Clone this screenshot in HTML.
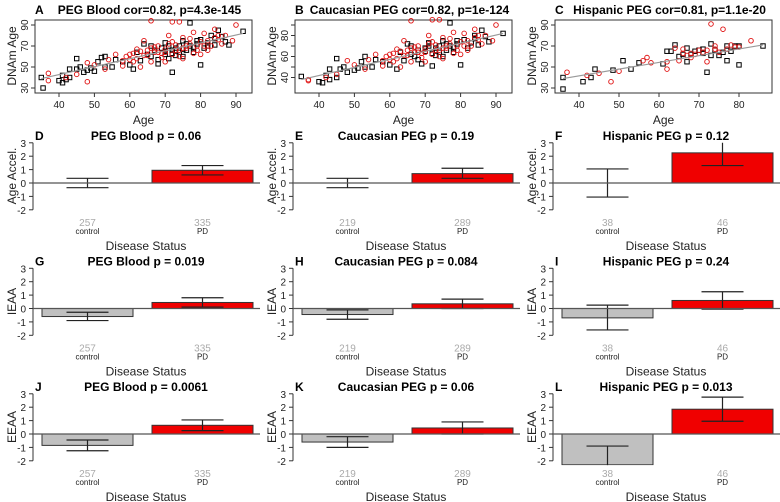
<!DOCTYPE html>
<html><head><meta charset="utf-8"><style>
body{margin:0;background:#fff;width:780px;height:502px;overflow:hidden}
svg{display:block;font-family:"Liberation Sans",Arial,sans-serif}
</style></head><body>
<svg id="fig" width="780" height="502" viewBox="0 0 780 502" xmlns="http://www.w3.org/2000/svg"></svg>
<script>
// ---- scatter data (age, DNAm age) ----
const aCtrlAge=[35,35.5,40,41,41,42,43,43,45,45,46,47,48,49,50,51,52,53,53,55,56,58,60,61,62,63,64,65,66,67,68,69,70,71,72,72,73,74,75,75,76,77,77,78,79,80,80,81,82,83,84,85,86,87,88,92,70,73,66,68,72,74,76,78,70,71,75,79,82,84];
const aCtrlDnam=[40,30,37,35,42,38,48,40,58,48,50,45,47,49,46,55,59,60,50,50,57,55,52,48,64,56,72,62,60,66,53,68,73,58,45,63,68,70,60,75,66,92,70,64,72,52,76,68,73,80,71,85,79,74,71,84,65,61,70,57,66,64,72,69,62,70,67,75,70,77];
const aPdAge=[37,37,42,45,48,48,50,53,54,56,58,59,60,61,62,63,64,65,66,66,67,68,69,70,71,72,72,73,74,74,75,76,77,78,79,80,81,82,83,84,85,86,87,89,90,64,70,75,62,80,78,68,60,63,66,69,71,73,76,79,82,84,65,67,72,74,77,81,85,58,61,70,75];
const aPdDnam=[44,37,40,43,36,54,52,48,57,62,51,60,57,63,67,50,61,66,94,55,64,70,59,67,80,93,62,71,93,66,58,68,77,63,70,74,82,66,70,86,76,72,80,75,90,75,55,78,58,62,83,64,62,65,68,63,72,66,70,66,75,78,61,69,74,60,72,70,80,56,55,64,68];
const bCtrlAge=[35,40,41,42,43,43,45,45,46,47,48,50,51,52,53,53,55,56,58,60,62,63,64,65,66,67,68,69,70,71,72,72,73,74,75,75,76,77,77,78,79,80,81,82,83,84,85,86,87,88,92,70,73,66,68,74,76,78,71,79,84];
const bCtrlDnam=[41,36,35,42,38,48,40,58,48,50,45,47,49,55,60,50,50,57,55,52,48,64,56,72,62,60,66,53,68,73,51,63,68,70,60,75,66,92,70,64,72,52,76,68,73,80,71,85,79,74,82,65,61,70,57,64,72,69,70,75,77];
const bPdAge=[37,37,42,45,48,50,53,54,56,58,59,60,61,62,63,64,65,66,66,67,68,69,70,71,72,72,73,74,74,75,76,77,78,79,80,81,82,83,84,85,86,87,89,90,64,70,75,62,80,78,68,60,63,66,69,71,73,76,79,82,84,65,67,72,74,77,81,85,58,61,70,75];
const bPdDnam=[38,37,40,43,56,52,48,57,62,51,60,57,63,67,50,61,66,94,55,64,70,59,67,80,95,62,71,95,66,58,68,77,63,70,74,82,66,70,86,76,72,80,75,90,75,55,78,58,62,83,64,62,65,68,63,72,66,70,66,75,78,61,69,74,60,72,70,80,56,55,64,68];
const cCtrlAge=[36,36,41,43,44,48.5,51,53,55,61,62,63,64,65,66,67,67,68,69,70,71,71,72,73,73,74,75,76,77,77,78,79,80,80,86];
const cCtrlDnam=[40,29,36,40,48,47,56,48,54,53,65,65,71,60,62,55,68,62,65,66,63,67,45,61,72,66,61,64,56,70,65,70,52,70,70];
const cPdAge=[37,42,45,48,50,56,57,58,62,62,64,65,66,66,67,68,68,69,70,71,72,72,73,74,74,75,76,77,78,79,80,83];
const cPdDnam=[45,42,44,36,46,56,59,54,55,48,68,56,63,67,61,59,63,62,66,64,66,55,91,70,67,64,86,67,71,69,69,75];
// regression lines [age0, dnam0, age1, dnam1]
const fitA=[35,39,92,82];
const fitB=[35,38,92,82];
const fitC=[36,39,86,71];

// ---- bar data
const barTitles=["PEG Blood p = 0.06","Caucasian PEG p = 0.19","Hispanic PEG p = 0.12","PEG Blood p = 0.019","Caucasian PEG p = 0.084","Hispanic PEG p = 0.24","PEG Blood p = 0.0061","Caucasian PEG p = 0.06","Hispanic PEG p = 0.013"];
const barLetters=["D","E","F","G","H","I","J","K","L"];
const ctrlMean=[0,0,0,-0.6,-0.45,-0.7,-0.85,-0.6,-2.3];
const ctrlLo=[-0.35,-0.35,-1.05,-0.9,-0.8,-1.6,-1.25,-1.0,-3.7];
const ctrlHi=[0.35,0.35,1.05,-0.28,-0.1,0.25,-0.45,-0.2,-0.9];
const pdMean=[0.95,0.7,2.25,0.45,0.35,0.6,0.65,0.45,1.85];
const pdLo=[0.6,0.35,1.3,0.1,0.0,-0.05,0.25,0.0,0.95];
const pdHi=[1.3,1.1,3.2,0.8,0.7,1.25,1.05,0.9,2.75];
const nCtrl=["257","219","38","257","219","38","257","219","38"];
const nPd=["335","289","46","335","289","46","335","289","46"];
const yLabels=["Age Accel.","IEAA","EEAA"];
const barTicks=[3,2,1,0,-1,-2];

const svg=document.getElementById('fig');
const NS="http://www.w3.org/2000/svg";
function el(tag,attrs,parent,text){const e=document.createElementNS(NS,tag);for(const k in attrs)e.setAttribute(k,attrs[k]);if(text!==undefined)e.textContent=text;(parent||svg).appendChild(e);return e;}
const defs=el('defs',{});

function scatter(ox,letter,title,ctrlX,ctrlY,pdX,pdY,fit,pxPerYr,xticks,yTickLab,name){
  const g=el('g',{});
  
  
  const L=ox+35,R=ox+252,T=20,B=93;
  const x0=(ox===520)?579:ox+59;
  const sx=a=>x0+(a-40)*pxPerYr;
  const sy=v=>25+(90-v)*1.05;
  const t=el('text',{x:ox+35,y:14,'font-size':12,'font-weight':'bold'},g,letter);
  
  
  const tt=el('text',{x:(L+R)/2+6,y:14,'font-size':12,'font-weight':'bold','text-anchor':'middle'},g,title);
  
  
  const bx=el('rect',{x:L,y:T,width:R-L,height:B-T,fill:'none',stroke:'#333','stroke-width':1},g);
  
  
  for(let i=0;i<ctrlX.length;i++){
    const s=el('rect',{x:sx(ctrlX[i])-2.2,y:sy(ctrlY[i])-2.2,width:4.4,height:4.4,fill:'none',stroke:'#000','stroke-width':1},g);
    
    
  }
  for(let i=0;i<pdX.length;i++){
    const c=el('circle',{cx:sx(pdX[i]),cy:sy(pdY[i]),r:2.3,fill:'none',stroke:'#e01010','stroke-width':0.9},g);
    
    
  }
  const fl=el('line',{x1:sx(fit[0]),y1:sy(fit[1]),x2:sx(fit[2]),y2:sy(fit[3]),stroke:'#999','stroke-width':1.2},g);
  
  
  xticks.forEach(v=>{
    el('line',{x1:sx(v),y1:B,x2:sx(v),y2:B+4,stroke:'#333'},g);
    const lt=el('text',{x:sx(v),y:108,'font-size':10,'text-anchor':'middle',fill:'#222'},g,String(v));
    
    
  });
  yTickLab.forEach(v=>{
    el('line',{x1:L,y1:sy(v),x2:L-4,y2:sy(v),stroke:'#333'},g);
  });
  const labs=(name==='scatter-b')?[40,60,80]:[30,50,70,90];
  const minor=(name==='scatter-b')?[50,70,90]:[];
  minor.forEach(v=>el('line',{x1:L,y1:sy(v),x2:L-4,y2:sy(v),stroke:'#333'},g));
  labs.forEach(v=>{
    const lt=el('text',{x:0,y:0,'font-size':10,'text-anchor':'middle',fill:'#222',transform:`translate(${L-7},${sy(v)}) rotate(-90)`},g,String(v));
    
    
  });
  const xl=el('text',{x:(L+R)/2,y:124,'font-size':12,'text-anchor':'middle',fill:'#222'},g,'Age');
  
  
  const yl=el('text',{x:0,y:0,'font-size':12,'text-anchor':'middle',fill:'#222',transform:`translate(${ox+16},${56}) rotate(-90)`},g,'DNAm Age');
  
  
}
scatter(0,'A','PEG Blood cor=0.82, p=4.3e-145',aCtrlAge,aCtrlDnam,aPdAge,aPdDnam,fitA,3.54,[40,50,60,70,80,90],[30,50,70,90],'scatter-a');
scatter(260,'B','Caucasian PEG cor=0.82, p=1e-124',bCtrlAge,bCtrlDnam,bPdAge,bPdDnam,fitB,3.54,[40,50,60,70,80,90],[40,60,80],'scatter-b');
scatter(520,'C','Hispanic PEG cor=0.81, p=1.1e-20',cCtrlAge,cCtrlDnam,cPdAge,cPdDnam,fitC,4.0,[40,50,60,70,80],[30,50,70,90],'scatter-c');

for(let i=0;i<9;i++){
  const col=i%3,row=Math.floor(i/3);
  const ox=col*260, oy=row*125.5;
  const g=el('g',{});
  
  
  const y0=183+oy, k=13.4;
  const sy=v=>y0-v*k;
  const axX=ox+33;
  const cp=el('clipPath',{id:'clip'+i},defs);
  el('rect',{x:ox,y:sy(3),width:262,height:sy(-2.32)-sy(3)},cp);
  const lt=el('text',{x:ox+35,y:oy+140,'font-size':12,'font-weight':'bold'},g,barLetters[i]);
  
  
  const tt=el('text',{x:ox+146,y:oy+140,'font-size':12,'font-weight':'bold','text-anchor':'middle'},g,barTitles[i]);
  
  
  el('line',{x1:axX,y1:sy(3),x2:axX,y2:sy(-2),stroke:'#333'},g);
  barTicks.forEach(v=>{
    el('line',{x1:axX,y1:sy(v),x2:axX-4,y2:sy(v),stroke:'#333'},g);
    const t=el('text',{x:axX-7,y:sy(v)+4,'font-size':10,'text-anchor':'end',fill:'#222'},g,String(v));
    
    
  });
  const bars=[[ox+42,ox+133,ctrlMean[i],ctrlLo[i],ctrlHi[i],'#c0c0c0','control',nCtrl[i]],[ox+152,ox+253,pdMean[i],pdLo[i],pdHi[i],'#f00000','PD',nPd[i]]];
  const clipG=el('g',{'clip-path':`url(#clip${i})`},g);
  bars.forEach(b=>{
    const m=b[2];
    const r=el('rect',{x:b[0],y:Math.min(sy(m),y0),width:b[1]-b[0],height:Math.abs(sy(m)-y0),fill:b[5],stroke:'#333','stroke-width':1},clipG);
    
    
    const cx=(b[0]+b[1])/2;
    const eb=el('path',{d:`M${cx},${sy(b[3])}V${sy(b[4])}M${cx-21},${sy(b[3])}H${cx+21}M${cx-21},${sy(b[4])}H${cx+21}`,stroke:'#222','stroke-width':1.2,fill:'none'},clipG);
    
    
    const nt=el('text',{x:cx,y:oy+226,'font-size':10,'text-anchor':'middle',fill:'#aaa'},g,b[7]);
    
    
    const ct=el('text',{x:cx,y:oy+234,'font-size':8,'text-anchor':'middle',fill:'#222'},g,b[6]);
    
    
  });
  el('line',{x1:axX,y1:y0,x2:ox+260,y2:y0,stroke:'#555','stroke-width':1.2},g);
  const xl=el('text',{x:ox+146,y:oy+250,'font-size':12,'text-anchor':'middle',fill:'#222'},g,'Disease Status');
  
  
  const yl=el('text',{x:0,y:0,'font-size':12,'text-anchor':'middle',fill:'#222',transform:`translate(${ox+16},${oy+176}) rotate(-90)`},g,yLabels[row]);
  
  
}
</script>
</body></html>
